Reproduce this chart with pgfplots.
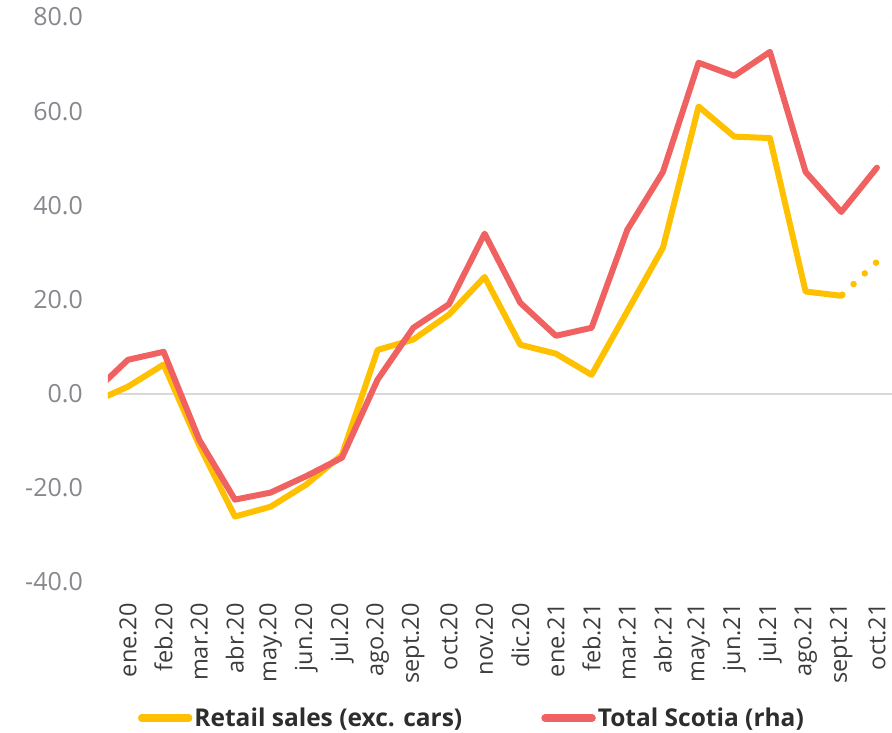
\documentclass[border=0pt]{standalone}
\usepackage{fontspec}
\setmainfont{Open Sans}
\usepackage{pgfplots}
\pgfplotsset{compat=1.18}
\usepackage{pgfplotstable}
\definecolor{cyellow}{RGB}{255,192,0}
\definecolor{cred}{RGB}{240,98,98}
\definecolor{ygray}{RGB}{135,135,142}
\definecolor{xdark}{RGB}{60,60,60}
\definecolor{ldark}{RGB}{45,45,45}
\definecolor{zline}{RGB}{217,217,217}

\pgfplotstableread{
x y
-1 -1.9
0 1.5
1 6.2
2 -11.0
3 -26.1
4 -24.0
5 -19.3
6 -13.0
7 9.3
8 11.5
9 16.8
10 24.8
11 10.4
12 8.5
13 4.0
14 17.5
15 31.0
16 61.0
17 54.6
18 54.3
19 21.7
20 20.8
}\retail

\pgfplotstableread{
x y
20 20.8
21 28.0
}\retailproj

\pgfplotstableread{
x y
-1 0.0
0 7.2
1 8.9
2 -9.8
3 -22.5
4 -21.0
5 -17.5
6 -13.6
7 3.0
8 14.0
9 19.0
10 34.0
11 19.3
12 12.3
13 14.0
14 34.8
15 47.1
16 70.3
17 67.5
18 72.6
19 47.1
20 38.6
21 48.0
}\scotia

\begin{document}
\begin{tikzpicture}
\begin{axis}[
  name=ax,
  scale only axis,
  width=784pt, height=582pt,
  xmin=-0.56, xmax=21.42,
  ymin=-40, ymax=83.6,
  axis line style={draw=none},
  major tick length=0pt,
  ytick={-40,-20,0,20,40,60,80},
  yticklabel style={/pgf/number format/.cd, fixed, fixed zerofill, precision=1, assume math mode=true, /tikz/.cd,
    font=\fontsize{25}{29}\selectfont, text=ygray, anchor=east, inner sep=0pt, xshift=-25pt},
  xtick={0,...,21},
  xticklabels={ene.20,feb.20,mar.20,abr.20,may.20,jun.20,jul.20,ago.20,sept.20,oct.20,nov.20,dic.20,ene.21,feb.21,mar.21,abr.21,may.21,jun.21,jul.21,ago.21,sept.21,oct.21},
  xticklabel style={yshift=-21pt, rotate=90, anchor=east, inner sep=0pt,
    font=\fontsize{23.5}{27}\selectfont, text=xdark},
  legend columns=2,
  legend style={draw=none, fill=none, at={(axis description cs:0.038,-0.2337)}, anchor=west,
    inner sep=0pt, font=\bfseries\fontsize{24.5}{28}\selectfont, text=ldark,
    /tikz/every even column/.append style={column sep=77pt}},
  legend cell align=left,
  legend image code/.code={\draw[#1, line width=7.5pt, line cap=round] (4pt,0pt) -- (51pt,0pt);},
  line cap=round, line join=round,
]
\draw[zline, line width=2pt] (axis cs:-0.56,0) -- (axis cs:21.42,0);
\addplot[cyellow, line width=6pt, no markers] table[x=x,y=y] {\retail};
\addlegendentry{Retail sales (exc. cars)}
\addplot[cred, line width=6pt, no markers] table[x=x,y=y] {\scotia};
\addlegendentry{Total Scotia (rha)}
\addplot[cyellow, line width=6.5pt, no markers, line cap=round, dash pattern=on 0pt off 15.5pt, dash phase=14pt, forget plot] table[x=x,y=y] {\retailproj};
\end{axis}
\path (ax.south west) ++(-108pt,-150pt) rectangle (ax.north east);
\end{tikzpicture}
\end{document}
